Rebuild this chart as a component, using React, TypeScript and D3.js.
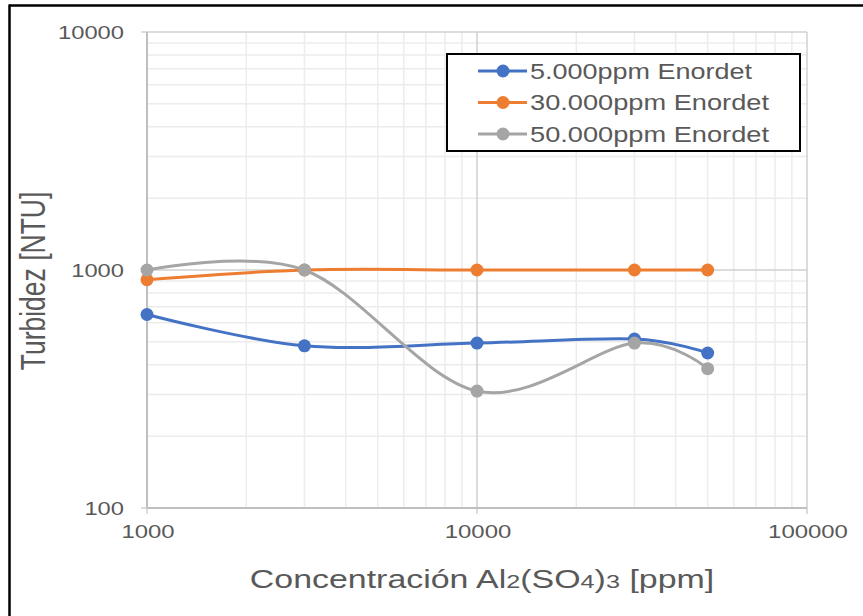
import React from "react";
import * as d3 from "d3";

const xValues = [1000, 3000, 10000, 30000, 50000];
const series5000 = [650, 480, 493, 513, 448];
const series30000 = [910, 1000, 1000, 1000, 1000];
const series50000 = [1000, 1000, 310, 493, 385];
const seriesNames = ["5.000ppm Enordet", "30.000ppm Enordet", "50.000ppm Enordet"];
const seriesColors = ["#4472c4", "#ed7d31", "#a5a5a5"];
const xTicks = [1000, 10000, 100000];
const yTicks = [100, 1000, 10000];

const W = 863, H = 616;
const left = 147, right = 807, top = 32, bottom = 508;

export default function App() {
  const x = d3.scaleLog().domain([1000, 100000]).range([left, right]);
  const y = d3.scaleLog().domain([100, 10000]).range([bottom, top]);
  const allSeries = [series5000, series30000, series50000];
  const line = d3
    .line<[number, number]>()
    .x((d) => x(d[0]))
    .y((d) => y(d[1]))
    .curve(d3.curveCatmullRom.alpha(0));

  const minorX: number[] = [];
  for (const dec of [1000, 10000]) for (let k = 2; k <= 9; k++) minorX.push(dec * k);
  const minorY: number[] = [];
  for (const dec of [100, 1000]) for (let k = 2; k <= 9; k++) minorY.push(dec * k);

  const font = "'Liberation Sans', Arial, sans-serif";
  const textColor = "#595959";
  const sx = 1.33;

  return (
    <svg
      width={W}
      height={H}
      style={{ position: "fixed", left: 0, top: 0, background: "#fff" }}
      fontFamily={font}
    >
      <rect x={0} y={0} width={W} height={H} fill="#fff" />
      {/* outer frame */}
      <line x1={9.5} x2={9.5} y1={4.5} y2={H} stroke="#000" strokeWidth={2.5} />
      <line x1={9} x2={W} y1={5.5} y2={5.5} stroke="#000" strokeWidth={2.5} />

      {/* minor grid */}
      {minorX.map((v) => (
        <line key={"mx" + v} x1={x(v)} x2={x(v)} y1={top} y2={bottom} stroke="#ececec" strokeWidth={1.5} />
      ))}
      {minorY.map((v) => (
        <line key={"my" + v} x1={left} x2={right} y1={y(v)} y2={y(v)} stroke="#ececec" strokeWidth={1.5} />
      ))}
      {/* major grid */}
      {xTicks.map((v) => (
        <line key={"gx" + v} x1={x(v)} x2={x(v)} y1={top} y2={bottom + 6} stroke="#d0d0d0" strokeWidth={1.5} />
      ))}
      {yTicks.map((v) => (
        <line key={"gy" + v} x1={left - 6} x2={right} y1={y(v)} y2={y(v)} stroke="#d0d0d0" strokeWidth={1.5} />
      ))}
      <line x1={left} x2={left} y1={top} y2={bottom} stroke="#bfbfbf" strokeWidth={2} />
      <line x1={left} x2={right} y1={bottom} y2={bottom} stroke="#bfbfbf" strokeWidth={2} />

      {/* tick labels */}
      {yTicks.map((v) => {
        const s = String(v);
        const len = s.length * 13.2;
        return (
          <text
            key={"ty" + v}
            x={124 - len}
            y={y(v)}
            dy="0.35em"
            fontSize={19}
            fill={textColor}
            textLength={len}
            lengthAdjust="spacingAndGlyphs"
          >
            {s}
          </text>
        );
      })}
      {xTicks.map((v) => {
        const s = String(v);
        const len = s.length * 13.3;
        return (
          <text
            key={"tx" + v}
            x={x(v) + 1 - len / 2}
            y={538}
            fontSize={19}
            fill={textColor}
            textLength={len}
            lengthAdjust="spacingAndGlyphs"
          >
            {s}
          </text>
        );
      })}

      {/* axis titles */}
      <text
        transform={`translate(482, 588) scale(${sx}, 1)`}
        textAnchor="middle"
        fontSize={25.5}
        fill={textColor}
      >
        Concentración Al<tspan fontSize={19}>2</tspan>(SO<tspan fontSize={19}>4</tspan>)<tspan fontSize={19}>3</tspan> [ppm]
      </text>
      <text
        transform={`translate(45, ${(top + bottom) / 2 + 11}) scale(${sx}, 1) rotate(-90)`}
        textAnchor="middle"
        fontSize={26.5}
        fill={textColor}
      >
        Turbidez [NTU]
      </text>

      {/* series */}
      {allSeries.map((s, i) => {
        const pts = xValues.map((xv, j) => [xv, s[j]] as [number, number]);
        return (
          <g key={"s" + i}>
            <path d={line(pts) || ""} fill="none" stroke={seriesColors[i]} strokeWidth={3} />
          </g>
        );
      })}
      {allSeries.map((s, i) => (
        <g key={"m" + i}>
          {xValues.map((xv, j) => (
            <circle key={j} cx={x(xv)} cy={y(s[j])} r={6.5} fill={seriesColors[i]} />
          ))}
        </g>
      ))}

      {/* legend */}
      <rect x={447} y={54} width={353} height={97} fill="#fff" stroke="#000" strokeWidth={2} />
      {seriesNames.map((n, i) => {
        const ly = 71 + i * 31.5;
        const len = i === 0 ? 222 : 239;
        return (
          <g key={"l" + i}>
            <line x1={478} x2={527} y1={ly} y2={ly} stroke={seriesColors[i]} strokeWidth={3} />
            <circle cx={503} cy={ly} r={6.5} fill={seriesColors[i]} />
            <text
              x={530}
              y={ly}
              dy="0.36em"
              fontSize={22}
              fill={textColor}
              textLength={len}
              lengthAdjust="spacingAndGlyphs"
            >
              {n}
            </text>
          </g>
        );
      })}
    </svg>
  );
}
